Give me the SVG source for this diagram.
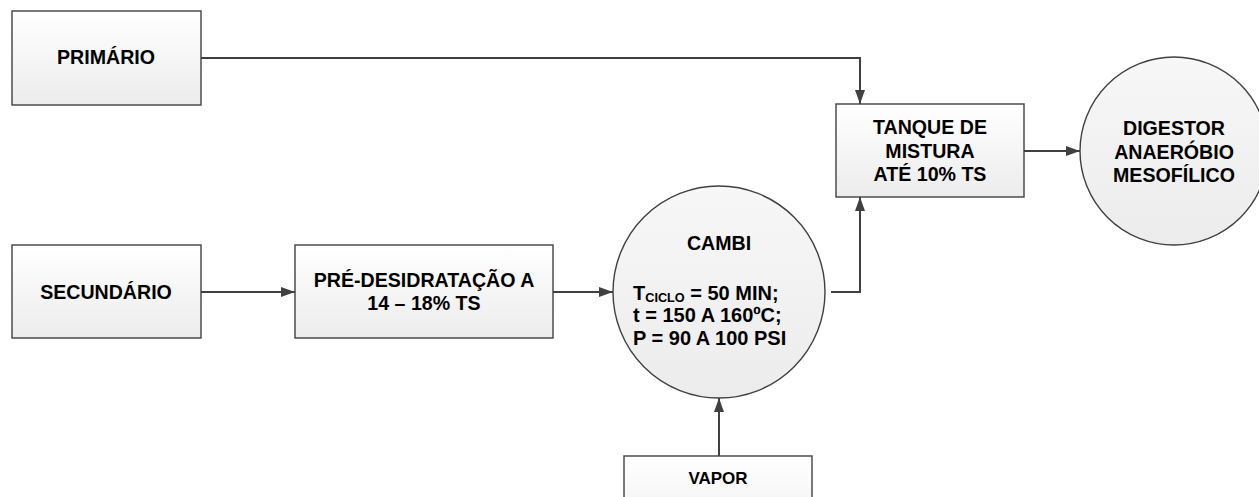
<svg xmlns="http://www.w3.org/2000/svg" width="1259" height="497" viewBox="0 0 1259 497">
<defs>
<linearGradient id="gBox" x1="0" y1="0" x2="0" y2="1">
<stop offset="0" stop-color="#ffffff"/>
<stop offset="1" stop-color="#ececec"/>
</linearGradient>
<linearGradient id="gCirc" x1="0" y1="0" x2="0" y2="1">
<stop offset="0" stop-color="#f7f7f7"/>
<stop offset="1" stop-color="#ececec"/>
</linearGradient>
<marker id="arr" viewBox="0 0 14 10" refX="14" refY="5" markerWidth="14" markerHeight="10" markerUnits="userSpaceOnUse" orient="auto">
<path d="M0,0 L14,5 L0,10 Z" fill="#404040"/>
</marker>
<style>
.box{fill:url(#gBox);stroke:#404040;stroke-width:1.4}
.circ{fill:url(#gCirc);stroke:#404040;stroke-width:1.4}
.t{font-family:"Liberation Sans",Arial,sans-serif;font-weight:bold;font-size:19.6px;fill:#000;text-anchor:middle}
.tl{font-family:"Liberation Sans",Arial,sans-serif;font-weight:bold;font-size:20px;fill:#000}
.sub{font-size:12.7px}
.c{fill:none;stroke:#404040;stroke-width:2}
</style>
</defs>
<rect width="1259" height="497" fill="#ffffff"/>
<g id="connectors">
<path class="c" d="M201,58 H860 V104" marker-end="url(#arr)"/>
<path class="c" d="M1024,151 H1080" marker-end="url(#arr)"/>
<path class="c" d="M201,292 H295" marker-end="url(#arr)"/>
<path class="c" d="M553,292 H613" marker-end="url(#arr)"/>
<path class="c" d="M831,292 H860 V197" marker-end="url(#arr)"/>
<path class="c" d="M719,456 V398" marker-end="url(#arr)"/>
</g>
<g id="primario">
<rect class="box" x="12" y="11" width="189" height="94"/>
<text class="t" x="106" y="64">PRIMÁRIO</text>
</g>
<g id="secundario">
<rect class="box" x="12" y="245" width="189" height="93"/>
<text class="t" x="106" y="299">SECUNDÁRIO</text>
</g>
<g id="predesidratacao">
<rect class="box" x="295" y="245" width="258" height="93"/>
<text class="t" x="424" y="287">PRÉ-DESIDRATAÇÃO A</text>
<text class="t" x="424" y="310">14 – 18% TS</text>
</g>
<g id="cambi">
<circle class="circ" cx="719" cy="292" r="106"/>
<text class="t" x="719" y="250">CAMBI</text>
<text class="tl" x="633" y="300">T<tspan class="sub" dy="2">CICLO</tspan><tspan dy="-2"> = 50 MIN;</tspan></text>
<text class="tl" x="633" y="322">t = 150 A 160ºC;</text>
<text class="tl" x="633" y="345">P = 90 A 100 PSI</text>
</g>
<g id="tanque">
<rect class="box" x="836" y="104" width="188" height="93"/>
<text class="t" x="930" y="134">TANQUE DE</text>
<text class="t" x="930" y="158">MISTURA</text>
<text class="t" x="930" y="181">ATÉ 10% TS</text>
</g>
<g id="digestor">
<circle class="circ" cx="1174" cy="151" r="94"/>
<text class="t" x="1174" y="135">DIGESTOR</text>
<text class="t" x="1174" y="159">ANAERÓBIO</text>
<text class="t" x="1174" y="182">MESOFÍLICO</text>
</g>
<g id="vapor">
<rect class="box" x="624" y="456" width="188" height="93"/>
<text class="t" x="718" y="484" style="font-size:17px">VAPOR</text>
</g>
</svg>
